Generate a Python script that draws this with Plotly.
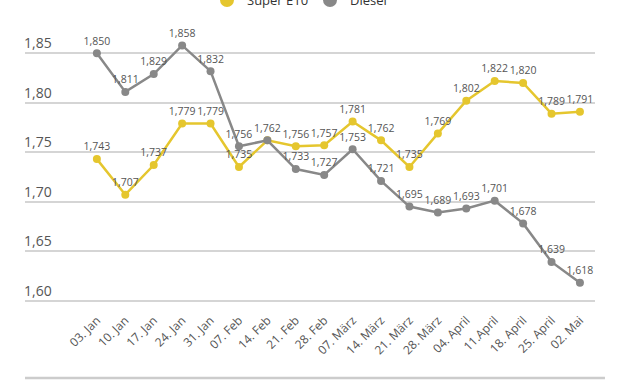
import plotly.graph_objects as go

categories = ["03. Jan", "10. Jan", "17. Jan", "24. Jan", "31. Jan", "07. Feb",
              "14. Feb", "21. Feb", "28. Feb", "07. März", "14. März", "21. März",
              "28. März", "04. April", "11.April", "18. April", "25. April", "02. Mai"]
super_e10 = [1.743, 1.707, 1.737, 1.779, 1.779, 1.735, 1.762, 1.756, 1.757,
             1.781, 1.762, 1.735, 1.769, 1.802, 1.822, 1.820, 1.789, 1.791]
diesel = [1.850, 1.811, 1.829, 1.858, 1.832, 1.756, 1.762, 1.733, 1.727,
          1.753, 1.721, 1.695, 1.689, 1.693, 1.701, 1.678, 1.639, 1.618]
y_ticks = [1.60, 1.65, 1.70, 1.75, 1.80, 1.85]

YELLOW = "#e5c62e"
GREY = "#888888"
FONT = "Open Sans"


def fmt(v):
    return f"{v:.3f}".replace(".", ",")


# where both series share a value, only one label is drawn (as in the reference)
e10_text = [fmt(v) if v != d else "" for v, d in zip(super_e10, diesel)]
diesel_text = [fmt(v) for v in diesel]

fig = go.Figure()
for name, vals, txt, col in [("Super E10", super_e10, e10_text, YELLOW),
                             ("Diesel", diesel, diesel_text, GREY)]:
    fig.add_trace(go.Scatter(
        x=list(range(len(categories))), y=vals, mode="lines+markers+text",
        line=dict(color=col, width=2.5), marker=dict(color=col, size=8),
        text=txt, textposition="top center",
        textfont=dict(size=10.5, color="#555555", family=FONT),
        cliponaxis=False, showlegend=False, hoverinfo="skip"))
for name, col in [("Super E10", YELLOW), ("Diesel", GREY)]:
    fig.add_trace(go.Scatter(x=[None], y=[None], mode="markers", name=name,
                             marker=dict(color=col, size=14)))

# plot area: pixel y 30..310 (280 px), x 25..595
fig.update_layout(
    width=630, height=381,
    margin=dict(l=25, r=35, t=30, b=71, autoexpand=False),
    paper_bgcolor="white", plot_bgcolor="white",
    separators=",.",
    font=dict(family=FONT, color="#555555"),
    legend=dict(orientation="h", x=0.5, xanchor="center", y=310 / 280, yanchor="middle",
                font=dict(size=13, color="#333333"), itemwidth=30,
                entrywidth=58, entrywidthmode="pixels"),
    xaxis=dict(range=[-2.53, 17.53], tickmode="array",
               tickvals=list(range(len(categories))), ticktext=categories,
               tickangle=-45, tickfont=dict(size=12, color="#555555"),
               showgrid=False, zeroline=False, showline=False, ticks=""),
    yaxis=dict(range=[1.5904, 1.8736], tickmode="array", tickvals=y_ticks,
               tickformat=".2f", ticklabelposition="inside top", ticklabelstandoff=-4,
               tickfont=dict(size=14, color="#555555"),
               showgrid=True, gridcolor="#d5d5d5", gridwidth=1.5,
               zeroline=False, showline=False, ticks=""),
    shapes=[dict(type="line", xref="paper", yref="paper", x0=0, x1=1.0175,
                 y0=-68 / 280, y1=-68 / 280, line=dict(color="#cccccc", width=2.5))],
)

fig.write_html("out.html", config={"displayModeBar": False},
               post_script="document.body.style.margin='0';document.body.style.overflow='hidden';")
